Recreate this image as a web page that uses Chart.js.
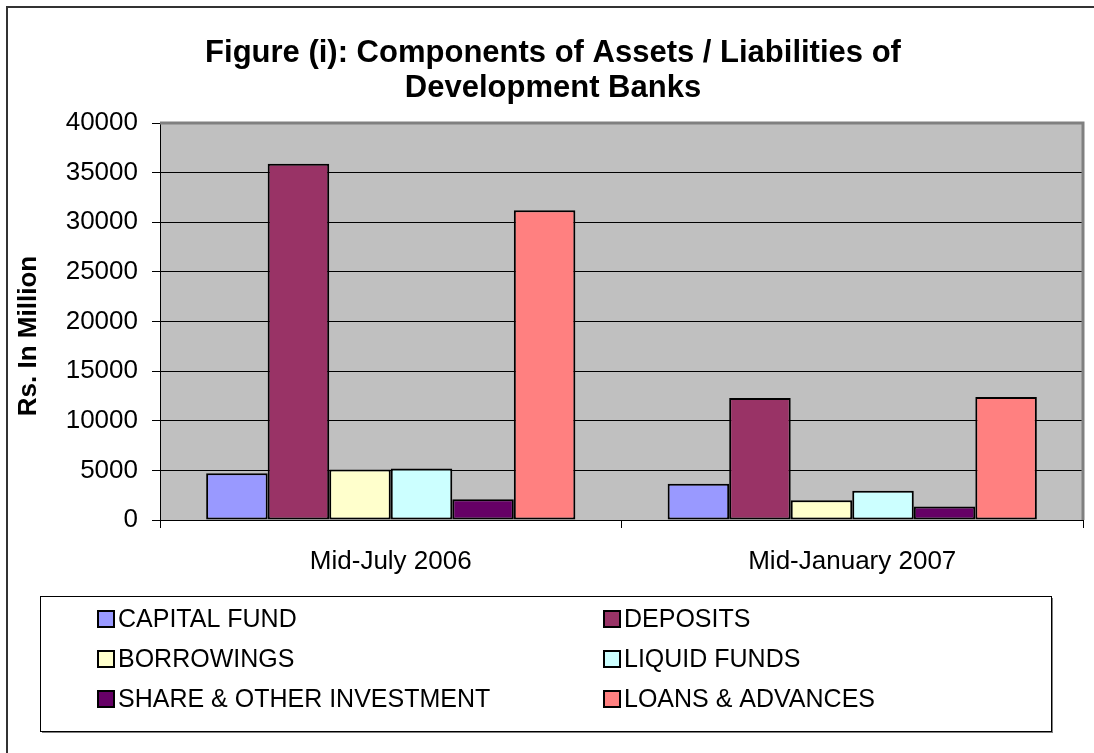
<!DOCTYPE html>
<html>
<head>
<meta charset="utf-8">
<script src="https://cdn.jsdelivr.net/npm/chart.js@4.4.0/dist/chart.umd.min.js"></script>
<style>
  html, body { margin: 0; padding: 0; background: #fff; }
  #wrap { width: 1094px; height: 753px; }
</style>
</head>
<body>
<div id="wrap"><canvas id="chart" width="1094" height="753"></canvas></div>
<script>
// Chart data (Rs. in million)
const categories = ['Mid-July 2006', 'Mid-January 2007'];
const seriesNames = ['CAPITAL FUND', 'DEPOSITS', 'BORROWINGS', 'LIQUID FUNDS', 'SHARE & OTHER INVESTMENT', 'LOANS & ADVANCES'];
const capitalFund = [4700, 3650];
const deposits = [35900, 12300];
const borrowings = [5100, 2000];
const liquidFunds = [5200, 2950];
const shareInvestment = [2100, 1350];
const loansAdvances = [31200, 12400];
const yTicks = [0, 5000, 10000, 15000, 20000, 25000, 30000, 35000, 40000];

const seriesValues = [capitalFund, deposits, borrowings, liquidFunds, shareInvestment, loansAdvances];
const seriesColors = ['#9999FF', '#993366', '#FFFFCC', '#CCFFFF', '#660066', '#FF8080'];

const FONT = 'Arial, "Liberation Sans", sans-serif';

/**
 * Background, outer frame and plot area fill
 */
const backgroundPlugin = {
    id: 'background',
    beforeDraw(chart) {
        const ctx = chart.ctx;
        const area = chart.chartArea;
        ctx.save();
        ctx.fillStyle = '#ffffff';
        ctx.fillRect(0, 0, chart.width, chart.height);

        // outer frame (cropped on right and bottom)
        ctx.strokeStyle = '#333333';
        ctx.lineWidth = 2;
        ctx.beginPath();
        ctx.moveTo(7, chart.height);
        ctx.lineTo(7, 7);
        ctx.lineTo(chart.width, 7);
        ctx.stroke();

        ctx.fillStyle = '#C0C0C0';
        ctx.fillRect(area.left, area.top, area.right - area.left, area.bottom - area.top);
        ctx.restore();
    },
    afterDatasetsDraw(chart) {
        // gray border on top and right of plot area
        const ctx = chart.ctx;
        const area = chart.chartArea;
        ctx.save();
        ctx.strokeStyle = '#808080';
        ctx.lineWidth = 3;
        ctx.beginPath();
        ctx.moveTo(area.left, area.top);
        ctx.lineTo(area.right, area.top);
        ctx.lineTo(area.right, area.bottom);
        ctx.stroke();
        ctx.restore();
    }
};

/**
 * Title, y axis title and the boxed two-column legend
 */
const textPlugin = {
    id: 'texts',
    afterDraw(chart) {
        const ctx = chart.ctx;
        ctx.save();
        ctx.fillStyle = '#000';
        ctx.textAlign = 'center';
        ctx.textBaseline = 'middle';
        ctx.font = 'bold 31px ' + FONT;
        ctx.fillText('Figure (i): Components of Assets / Liabilities of', 553, 53);
        ctx.fillText('Development Banks', 553, 88);

        // y axis title
        ctx.save();
        ctx.translate(29, 336);
        ctx.rotate(-Math.PI / 2);
        ctx.font = 'bold 26px ' + FONT;
        ctx.fillText('Rs. In Million', 0, 0);
        ctx.restore();

        // legend box with shadow
        const box = { x: 40, y: 596, w: 1011, h: 135 };
        ctx.fillStyle = '#808080';
        ctx.fillRect(box.x + 2, box.y + box.h, box.w, 2);
        ctx.fillRect(box.x + box.w, box.y + 2, 2, box.h);
        ctx.strokeStyle = '#000';
        ctx.lineWidth = 1;
        ctx.strokeRect(box.x + 0.5, box.y + 0.5, box.w, box.h);

        const colX = [98, 604];
        const rowY = [619, 659, 699];
        ctx.textAlign = 'left';
        ctx.font = '25px ' + FONT;
        chart.data.datasets.forEach((ds, i) => {
            const x = colX[i % 2];
            const y = rowY[Math.floor(i / 2)];
            ctx.fillStyle = ds.backgroundColor;
            ctx.fillRect(x, y - 8, 16, 16);
            ctx.strokeStyle = '#000';
            ctx.lineWidth = 2;
            ctx.strokeRect(x, y - 8, 16, 16);
            ctx.fillStyle = '#000';
            ctx.fillText(ds.label, x + 20, y + 1);
        });
        ctx.restore();
    }
};

document.addEventListener('DOMContentLoaded', function() {
    const ctx = document.getElementById('chart').getContext('2d');
    window.banksChart = new Chart(ctx, {
        type: 'bar',
        data: {
            labels: categories,
            datasets: seriesNames.map((name, i) => ({
                label: name,
                data: seriesValues[i],
                backgroundColor: seriesColors[i],
                borderColor: '#000',
                borderWidth: 2,
                borderSkipped: false,
                categoryPercentage: 0.8,
                barPercentage: 1.0
            }))
        },
        options: {
            responsive: false,
            animation: false,
            devicePixelRatio: 1,
            layout: {
                padding: { top: 123, right: 11, left: 0, bottom: 0 }
            },
            plugins: {
                legend: { display: false },
                title: { display: false },
                tooltip: { enabled: false }
            },
            scales: {
                x: {
                    afterFit(scale) { scale.height = 233; },
                    grid: {
                        offset: true,
                        drawOnChartArea: false,
                        drawTicks: true,
                        tickLength: 8,
                        color: '#000'
                    },
                    border: { color: '#000', width: 1 },
                    ticks: {
                        color: '#000',
                        padding: 18,
                        font: { family: FONT, size: 26 }
                    }
                },
                y: {
                    min: 0,
                    max: 40000,
                    afterFit(scale) { scale.width = 160; },
                    afterBuildTicks(scale) {
                        scale.ticks = yTicks.map(v => ({ value: v }));
                    },
                    grid: {
                        color: (c) => (c.tick && c.tick.value === 40000) ? 'rgba(0,0,0,0)' : '#000',
                        tickColor: '#000',
                        tickLength: 8,
                        lineWidth: 1
                    },
                    border: { color: '#000', width: 1 },
                    ticks: {
                        color: '#000',
                        padding: 14,
                        font: { family: FONT, size: 26 },
                        callback: (v) => String(v)
                    }
                }
            }
        },
        plugins: [backgroundPlugin, textPlugin]
    });
});
</script>
</body>
</html>
